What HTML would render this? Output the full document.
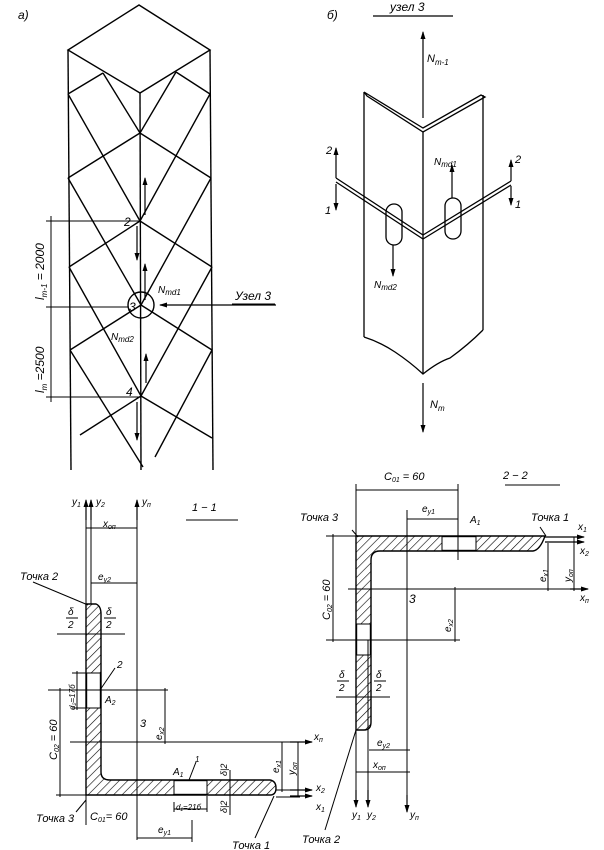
<!DOCTYPE html>
<html><head><meta charset="utf-8"><style>
html,body{margin:0;padding:0;background:#fff;}
svg{display:block;}
text{font-family:"Liberation Sans",sans-serif;font-style:italic;fill:#000;}
</style></head><body>
<svg width="604" height="850" viewBox="0 0 604 850" xmlns="http://www.w3.org/2000/svg">
<defs>
<pattern id="h" patternUnits="userSpaceOnUse" width="6" height="6" patternTransform="rotate(45)">
<rect width="6" height="6" fill="#fff"/><line x1="0" y1="0" x2="0" y2="6" stroke="#000" stroke-width="1.2"/>
</pattern>
<marker id="a" markerWidth="8" markerHeight="8" refX="7" refY="4" orient="auto" markerUnits="userSpaceOnUse"><path d="M0,1.5 L8,4 L0,6.5 z" fill="#000"/></marker>
</defs>
<g stroke="#000" stroke-width="1.4" fill="none">
<!-- tower -->
<path d="M139,5 L68,50 L140,93 L210,50 Z"/>
<line x1="68" y1="50" x2="71" y2="470"/>
<line x1="210" y1="50" x2="213" y2="470"/>
<line x1="140" y1="93" x2="141" y2="470"/>
<!-- shallow -->
<line x1="103" y1="73" x2="68" y2="94"/>
<line x1="140" y1="133" x2="68" y2="178"/>
<line x1="140" y1="221" x2="69" y2="267"/>
<line x1="141" y1="305" x2="70" y2="350"/>
<line x1="141" y1="396" x2="80" y2="435"/>
<line x1="176" y1="72" x2="210" y2="94"/>
<line x1="140" y1="133" x2="211" y2="178"/>
<line x1="140" y1="221" x2="212" y2="267"/>
<line x1="141" y1="305" x2="212" y2="350"/>
<line x1="141" y1="396" x2="212" y2="438"/>
<!-- steep -->
<line x1="103" y1="73" x2="140" y2="133"/>
<line x1="68" y1="94" x2="140" y2="221"/>
<line x1="68" y1="178" x2="141" y2="305"/>
<line x1="69" y1="267" x2="141" y2="396"/>
<line x1="70" y1="350" x2="143" y2="467"/>
<line x1="176" y1="72" x2="140" y2="133"/>
<line x1="210" y1="94" x2="140" y2="221"/>
<line x1="211" y1="178" x2="141" y2="305"/>
<line x1="212" y1="267" x2="141" y2="396"/>
<line x1="212" y1="350" x2="155" y2="457"/>
<!-- dims -->
<line x1="46" y1="221" x2="140" y2="221" stroke-width="1"/>
<line x1="46" y1="307" x2="128" y2="307" stroke-width="1"/>
<line x1="46" y1="397" x2="140" y2="397" stroke-width="1"/>
<line x1="51" y1="216" x2="51" y2="402" stroke-width="1"/>
<circle cx="141" cy="305" r="13"/>
</g>
<g stroke="#000" stroke-width="1.2" fill="none" marker-end="url(#a)">
<line x1="145" y1="215" x2="145" y2="178"/>
<line x1="137" y1="226" x2="137" y2="260"/>
<line x1="145" y1="300" x2="145" y2="264"/>
<line x1="146" y1="383" x2="146" y2="354"/>
<line x1="137" y1="402" x2="137" y2="440"/>
<line x1="276" y1="305" x2="160" y2="305"/>
</g>
<text x="18" y="19" font-size="12">а)</text>
<text x="124" y="226" font-size="12">2</text>
<text x="129" y="311" font-size="12">3</text>
<text x="126" y="396" font-size="12">4</text>
<text x="158" y="293" font-size="10">N<tspan font-size="8" dy="2">md1</tspan></text>
<text x="111" y="340" font-size="10">N<tspan font-size="8" dy="2">md2</tspan></text>
<text x="235" y="300" font-size="12">Узел 3</text>
<line x1="232" y1="304" x2="275" y2="304" stroke="#000"/>
<text transform="translate(44,300) rotate(-90)" font-size="12">l<tspan font-size="8" dy="3">m-1</tspan><tspan dy="-3"> = 2000</tspan></text>
<text transform="translate(44,393) rotate(-90)" font-size="12">l<tspan font-size="8" dy="3">m</tspan><tspan dy="-3"> =2500</tspan></text>

<!-- б) -->
<text x="327" y="19" font-size="12">б)</text>
<text x="390" y="11" font-size="12">узел 3</text>
<line x1="373" y1="16" x2="453" y2="16" stroke="#000" stroke-width="1.2"/>
<g stroke="#000" stroke-width="1.3" fill="none">
<line x1="364" y1="92" x2="364" y2="337"/>
<line x1="483" y1="95" x2="483" y2="330"/>
<path d="M364,92 L423,128 L481,95 L485,97 L423,132 L367,96 Z"/>
<line x1="423" y1="132" x2="423" y2="374"/>
<path d="M364,337 Q380,342 395,352 Q410,362 423,374 Q438,362 450,358 Q468,345 483,330"/>
<path d="M336,178 L423,235 L511,181 M336,182 L423,239 L511,185"/>
<rect x="386" y="204" width="16" height="41" rx="8"/>
<rect x="445" y="198" width="16" height="41" rx="8"/>
</g>
<g stroke="#000" stroke-width="1.2" fill="none" marker-end="url(#a)">
<line x1="423" y1="118" x2="423" y2="32"/>
<line x1="423" y1="383" x2="423" y2="432"/>
<line x1="336" y1="178" x2="336" y2="148"/>
<line x1="336" y1="184" x2="336" y2="210"/>
<line x1="511" y1="181" x2="511" y2="160"/>
<line x1="511" y1="186" x2="511" y2="205"/>
<line x1="452" y1="198" x2="452" y2="165"/>
<line x1="393" y1="245" x2="393" y2="276"/>
</g>
<text x="427" y="62" font-size="11">N<tspan font-size="8" dy="3">m-1</tspan></text>
<text x="430" y="408" font-size="11">N<tspan font-size="8" dy="3">m</tspan></text>
<text x="434" y="165" font-size="10">N<tspan font-size="8" dy="2">md1</tspan></text>
<text x="374" y="288" font-size="10">N<tspan font-size="8" dy="2">md2</tspan></text>
<text x="326" y="154" font-size="11">2</text>
<text x="325" y="214" font-size="11">1</text>
<text x="515" y="163" font-size="11">2</text>
<text x="515" y="208" font-size="11">1</text>

<!-- section 1-1 -->
<path d="M86,604 L96,604 Q101,606 101,614 L101,772 Q101,780 110,780 L270,780 Q276,781 276,788 Q276,795 270,795 L86,795 Z" fill="url(#h)" stroke="#000" stroke-width="1.4"/>
<rect x="86.7" y="673" width="13.6" height="35" fill="#fff" stroke="#000" stroke-width="1"/>
<rect x="174" y="780.7" width="33" height="13.6" fill="#fff" stroke="#000" stroke-width="1"/>
<g stroke="#000" stroke-width="1" fill="none">
<line x1="86" y1="500" x2="86" y2="800"/>
<line x1="91" y1="500" x2="91" y2="604"/>
<line x1="137" y1="500" x2="137" y2="840"/>
<line x1="86" y1="528" x2="137" y2="528"/>
<line x1="91" y1="583" x2="137" y2="583"/>
<line x1="33" y1="582" x2="88" y2="605"/>
<line x1="57" y1="634" x2="125" y2="634"/>
<line x1="48" y1="690" x2="168" y2="690"/>
<line x1="77" y1="671" x2="77" y2="710"/>
<line x1="72" y1="673" x2="86" y2="673"/><line x1="72" y1="708" x2="86" y2="708"/>
<line x1="165" y1="688" x2="165" y2="744"/>
<line x1="60" y1="688" x2="60" y2="797"/>
<line x1="56" y1="795" x2="86" y2="795"/>
<line x1="70" y1="742" x2="300" y2="742"/>
<line x1="282" y1="742" x2="282" y2="792"/>
<line x1="298" y1="742" x2="298" y2="797"/>
<line x1="276" y1="790" x2="300" y2="790"/>
<line x1="276" y1="797" x2="300" y2="797"/>
<line x1="86" y1="795" x2="86" y2="825"/>
<line x1="137" y1="838" x2="192" y2="838"/>
<line x1="192" y1="820" x2="192" y2="842"/>
<line x1="174" y1="802" x2="174" y2="812"/><line x1="207" y1="796" x2="207" y2="812"/>
<line x1="174" y1="809" x2="207" y2="809"/>
<line x1="230" y1="770" x2="230" y2="815"/>
<line x1="189" y1="780" x2="196" y2="762"/>
<line x1="100" y1="690" x2="115" y2="668"/>
<line x1="86" y1="800" x2="76" y2="812"/>
<line x1="255" y1="838" x2="274" y2="796"/>
<line x1="186" y1="520" x2="238" y2="520"/>
</g>
<g stroke="#000" stroke-width="1.2" marker-end="url(#a)">
<line x1="86" y1="520" x2="86" y2="500"/>
<line x1="91" y1="520" x2="91" y2="500"/>
<line x1="137" y1="520" x2="137" y2="500"/>
<line x1="290" y1="742" x2="312" y2="742"/>
<line x1="290" y1="790" x2="312" y2="790"/>
<line x1="290" y1="796" x2="312" y2="796"/>
</g>
<g font-size="10">
<text x="72" y="505">y<tspan font-size="7" dy="2">1</tspan></text>
<text x="96" y="505">y<tspan font-size="7" dy="2">2</tspan></text>
<text x="142" y="505">y<tspan font-size="7" dy="2">п</tspan></text>
<text x="103" y="527">x<tspan font-size="7" dy="2">оп</tspan></text>
<text x="98" y="580">e<tspan font-size="7" dy="2">y2</tspan></text>
<text x="192" y="511" font-size="11">1 − 1</text>
<text x="20" y="580" font-size="11">Точка 2</text>
<text x="68" y="615">δ</text><line x1="66" y1="618" x2="78" y2="618" stroke="#000"/><text x="68" y="628">2</text>
<text x="106" y="615">δ</text><line x1="104" y1="618" x2="116" y2="618" stroke="#000"/><text x="106" y="628">2</text>
<text x="117" y="668">2</text>
<text x="105" y="703">A<tspan font-size="7" dy="2">2</tspan></text>
<text x="140" y="727" font-size="11">3</text>
<text transform="translate(75,710) rotate(-90)" font-size="8">d₂=17б</text>
<text transform="translate(162,740) rotate(-90)">e<tspan font-size="7" dy="2">x2</tspan></text>
<text transform="translate(57,760) rotate(-90)" font-size="11">C<tspan font-size="7" dy="2">02</tspan><tspan dy="-2"> = 60</tspan></text>
<text x="314" y="740">x<tspan font-size="7" dy="2">п</tspan></text>
<text x="316" y="791">x<tspan font-size="7" dy="2">2</tspan></text>
<text x="316" y="810">x<tspan font-size="7" dy="2">1</tspan></text>
<text transform="translate(279,773) rotate(-90)">e<tspan font-size="7" dy="2">x1</tspan></text>
<text transform="translate(295,775) rotate(-90)">y<tspan font-size="7" dy="2">оп</tspan></text>
<text x="173" y="775">A<tspan font-size="7" dy="2">1</tspan></text>
<text x="195" y="762" font-size="8">1</text>
<text x="176" y="810" font-size="8">d₁=21б</text>
<text transform="translate(227,776) rotate(-90)" font-size="9">δ|2</text>
<text transform="translate(227,813) rotate(-90)" font-size="9">δ|2</text>
<text x="36" y="822" font-size="11">Точка 3</text>
<text x="90" y="820" font-size="11">C<tspan font-size="7" dy="2">01</tspan><tspan dy="-2">= 60</tspan></text>
<text x="158" y="833">e<tspan font-size="7" dy="2">y1</tspan></text>
<text x="232" y="849" font-size="11">Точка 1</text>
</g>

<!-- section 2-2 -->
<path d="M356,536 L545,536 Q540,550 533,551 L380,551 Q371,551 371,560 L371,722 Q371,730 364,730 L356,730 Z" fill="url(#h)" stroke="#000" stroke-width="1.4"/>
<rect x="442" y="536.7" width="34" height="13.6" fill="#fff" stroke="#000" stroke-width="1"/>
<rect x="356.7" y="624" width="13.6" height="31" fill="#fff" stroke="#000" stroke-width="1"/>
<g stroke="#000" stroke-width="1" fill="none">
<line x1="505" y1="485" x2="560" y2="485"/>
<line x1="356" y1="484" x2="356" y2="536"/>
<line x1="458" y1="484" x2="458" y2="560"/>
<line x1="356" y1="490" x2="458" y2="490"/>
<line x1="407" y1="510" x2="407" y2="810"/>
<line x1="407" y1="519" x2="458" y2="519"/>
<line x1="326" y1="536" x2="356" y2="536"/>
<line x1="333" y1="534" x2="333" y2="642"/>
<line x1="326" y1="640" x2="460" y2="640"/>
<line x1="348" y1="589" x2="580" y2="589"/>
<line x1="455" y1="587" x2="455" y2="642"/>
<line x1="548" y1="543" x2="548" y2="591"/>
<line x1="574" y1="537" x2="574" y2="591"/>
<line x1="336" y1="697" x2="390" y2="697"/>
<line x1="352" y1="530" x2="358" y2="537"/>
<line x1="540" y1="527" x2="546" y2="536"/>
<line x1="325" y1="830" x2="356" y2="730"/>
<line x1="369" y1="750" x2="410" y2="750"/>
<line x1="356" y1="772" x2="410" y2="772"/>
<line x1="356" y1="730" x2="356" y2="800"/>
<line x1="368" y1="640" x2="368" y2="800"/>
</g>
<g stroke="#000" stroke-width="1.2" marker-end="url(#a)">
<line x1="545" y1="537" x2="584" y2="537"/>
<line x1="545" y1="542" x2="584" y2="542"/>
<line x1="570" y1="589" x2="588" y2="589"/>
<line x1="356" y1="790" x2="356" y2="807"/>
<line x1="368" y1="790" x2="368" y2="807"/>
<line x1="407" y1="795" x2="407" y2="812"/>
</g>
<g font-size="10">
<text x="503" y="479" font-size="11">2 − 2</text>
<text x="384" y="480" font-size="11">C<tspan font-size="7" dy="2">01</tspan><tspan dy="-2"> = 60</tspan></text>
<text x="422" y="512">e<tspan font-size="7" dy="2">y1</tspan></text>
<text x="470" y="523">A<tspan font-size="7" dy="2">1</tspan></text>
<text x="531" y="521" font-size="11">Точка 1</text>
<text x="300" y="521" font-size="11">Точка 3</text>
<text x="578" y="530">x<tspan font-size="7" dy="2">1</tspan></text>
<text x="580" y="554">x<tspan font-size="7" dy="2">2</tspan></text>
<text x="580" y="601">x<tspan font-size="7" dy="2">п</tspan></text>
<text transform="translate(546,582) rotate(-90)">e<tspan font-size="7" dy="2">x1</tspan></text>
<text transform="translate(571,582) rotate(-90)">y<tspan font-size="7" dy="2">оп</tspan></text>
<text x="409" y="603" font-size="12">3</text>
<text transform="translate(451,632) rotate(-90)">e<tspan font-size="7" dy="2">x2</tspan></text>
<text transform="translate(330,620) rotate(-90)" font-size="11">C<tspan font-size="7" dy="2">02</tspan><tspan dy="-2"> = 60</tspan></text>
<text x="339" y="678">δ</text><line x1="337" y1="681" x2="349" y2="681" stroke="#000"/><text x="339" y="691">2</text>
<text x="376" y="678">δ</text><line x1="374" y1="681" x2="386" y2="681" stroke="#000"/><text x="376" y="691">2</text>
<text x="377" y="746">e<tspan font-size="7" dy="2">y2</tspan></text>
<text x="373" y="768">x<tspan font-size="7" dy="2">оп</tspan></text>
<text x="352" y="818">y<tspan font-size="7" dy="2">1</tspan></text>
<text x="367" y="818">y<tspan font-size="7" dy="2">2</tspan></text>
<text x="410" y="818">y<tspan font-size="7" dy="2">п</tspan></text>
<text x="302" y="843" font-size="11">Точка 2</text>
</g>
</svg>
</body></html>
